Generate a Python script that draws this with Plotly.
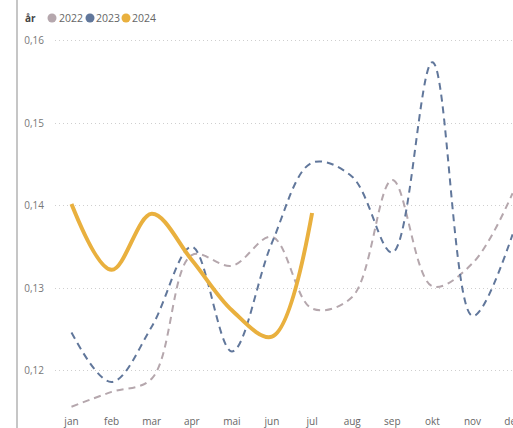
import plotly.graph_objects as go

# Monthly values per year
months = ["jan", "feb", "mar", "apr", "mai", "jun", "jul", "aug", "sep", "okt", "nov", "des"]
v2022 = [0.1156, 0.1174, 0.1190, 0.1340, 0.1327, 0.1362, 0.1275, 0.1289, 0.1431, 0.1302, 0.1330, 0.1415]
v2023 = [0.1246, 0.1186, 0.1253, 0.1350, 0.1223, 0.1355, 0.1452, 0.1435, 0.1343, 0.1574, 0.1266, 0.1365]
v2024 = [0.1402, 0.1322, 0.1390, 0.1334, 0.1273, 0.1241, 0.1391]
years = ["2022", "2023", "2024"]
colors = ["#b5a7ad", "#61779b", "#e9b03e"]

series = [v2022, v2023, v2024]
styles = [dict(width=2, dash="7px,5px"), dict(width=2, dash="7px,5px"), dict(width=4, dash="solid")]

fig = go.Figure()
for yr, vals, col, st in zip(years, series, colors, styles):
    fig.add_trace(go.Scatter(
        x=list(range(len(vals))), y=vals, mode="lines", name=yr,
        line=dict(color=col, shape="spline", smoothing=1.0, **st),
        showlegend=False, hoverinfo="skip",
    ))

# plot area in pixels: x 55..513, y 30..410
L, R, T, B = 55, 513, 30, 410
def px(x):
    return (x - L) / (R - L)
def py(y):
    return (B - y) / (B - T)

# compact legend: bold title, round swatches, year labels
legend_y = 18
swatch_x = [52, 90, 126]
label_x = [57, 94, 130]
shapes = []
annotations = [dict(text="<b>år</b>", xref="paper", yref="paper", x=px(23), y=py(legend_y),
                    xanchor="left", yanchor="middle", showarrow=False,
                    font=dict(size=10, color="#444444"))]
for yr, col, sx, lx in zip(years, colors, swatch_x, label_x):
    shapes.append(dict(type="circle", xref="paper", yref="paper",
                       xsizemode="pixel", ysizemode="pixel",
                       xanchor=px(sx), yanchor=py(legend_y),
                       x0=-4.5, x1=4.5, y0=-4.5, y1=4.5,
                       fillcolor=col, line=dict(width=0)))
    annotations.append(dict(text=yr, xref="paper", yref="paper", x=px(lx), y=py(legend_y),
                            xanchor="left", yanchor="middle", showarrow=False,
                            font=dict(size=10.5, color="#666666")))

# left border of the visual
shapes.append(dict(type="line", xref="paper", yref="paper",
                   x0=px(17), x1=px(17), y0=-0.06, y1=1.08,
                   line=dict(color="#c6c6c6", width=2)))

font = "Segoe UI, Open Sans, DejaVu Sans, sans-serif"
fig.update_layout(
    width=513, height=428,
    margin=dict(l=L, r=513 - R, t=T, b=428 - B, autoexpand=False),
    paper_bgcolor="white", plot_bgcolor="white",
    separators=", ",
    font=dict(family=font, size=10, color="#777777"),
    showlegend=False,
    xaxis=dict(
        range=[-0.411, 11.01], tickmode="array",
        tickvals=list(range(len(months))), ticktext=months,
        showgrid=False, zeroline=False, showline=False, ticks="",
        ticklabelstandoff=4, ticklabeloverflow="allow", automargin=False,
        tickfont=dict(size=10, color="#666666"),
    ),
    yaxis=dict(
        range=[0.1152, 0.1613], tickmode="linear", tick0=0.12, dtick=0.01,
        tickformat=".2f", showgrid=True, gridcolor="#cfcfcf", griddash="1px,3px",
        gridwidth=1, zeroline=False, showline=False, ticks="", automargin=False,
        ticklabelstandoff=10, tickfont=dict(size=10, color="#777777"),
    ),
    shapes=shapes,
    annotations=annotations,
)

fig.write_html("out.html")
